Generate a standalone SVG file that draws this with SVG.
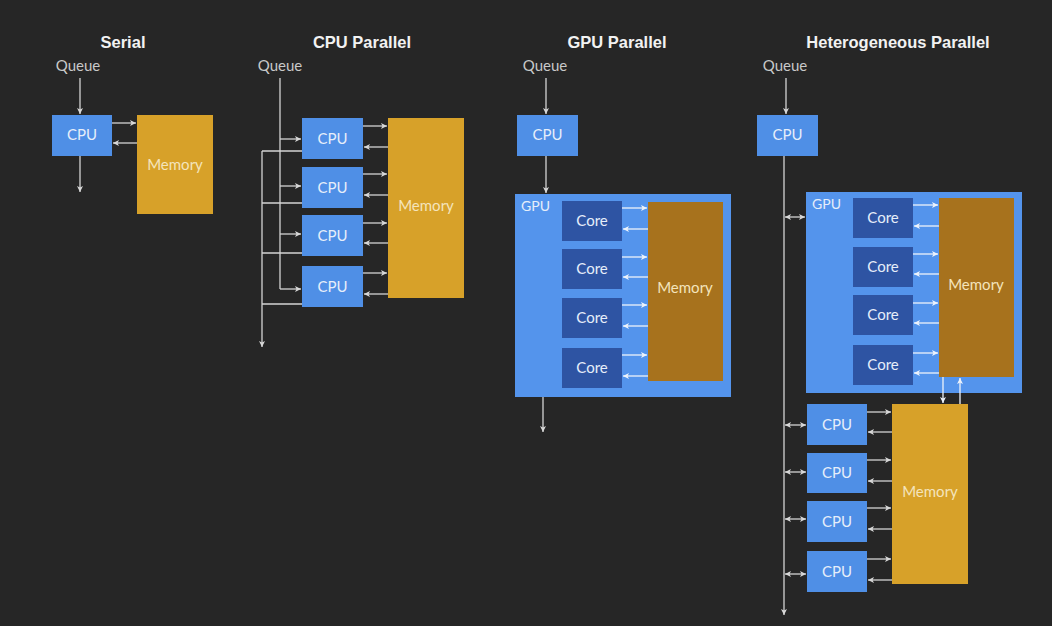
<svg xmlns="http://www.w3.org/2000/svg" width="1052" height="626" viewBox="0 0 1052 626">
<defs>
<marker id="ah" markerUnits="userSpaceOnUse" markerWidth="8" markerHeight="8" refX="6" refY="3" orient="auto-start-reverse" viewBox="0 0 8 6">
<path d="M0,0 L6,3 L0,6 L1.5,3 z" fill="#d8d8d8"/>
</marker>
<marker id="aw" markerUnits="userSpaceOnUse" markerWidth="8" markerHeight="8" refX="6" refY="3" orient="auto-start-reverse" viewBox="0 0 8 6">
<path d="M0,0 L6,3 L0,6 L1.5,3 z" fill="#eef3fb"/>
</marker>
<style>
.title{font-family:"Liberation Sans",Arial,sans-serif;font-weight:bold;font-size:16.5px;fill:#f2f2f2;text-anchor:middle}
.q{font-family:"Lato","Noto Sans",sans-serif;font-size:15px;fill:#c9c9c9;text-anchor:middle}
.lbl{font-family:"Lato","Noto Sans",sans-serif;font-size:15px;fill:#e6eefa;text-anchor:middle;dominant-baseline:central}
.mlbl{font-family:"Lato","Noto Sans",sans-serif;font-size:15px;fill:#f4e4bc;text-anchor:middle;dominant-baseline:central}
.glbl{font-family:"Lato","Noto Sans",sans-serif;font-size:14px;fill:#e6eefa}
.cpu{fill:#4f8fe6}
.gpu{fill:#5494ec}
.core{fill:#2e54a3}
.mem{fill:#d7a129}
.dmem{fill:#a7721d}
.ln{stroke:#d4d4d4;stroke-width:1.3;fill:none}
.a{stroke:#d4d4d4;stroke-width:1.3;fill:none;marker-end:url(#ah)}
.d{stroke:#d4d4d4;stroke-width:1.3;fill:none;marker-start:url(#ah);marker-end:url(#ah)}
.w{stroke:#eef3fb;stroke-width:1.3;fill:none;marker-end:url(#aw)}
</style>
</defs>
<rect width="1052" height="626" fill="#262626"/>

<!-- Titles -->
<text class="title" x="123" y="48">Serial</text>
<text class="title" x="362" y="48">CPU Parallel</text>
<text class="title" x="617" y="48">GPU Parallel</text>
<text class="title" x="898" y="48">Heterogeneous Parallel</text>
<text class="q" x="78" y="71">Queue</text>
<text class="q" x="280" y="71">Queue</text>
<text class="q" x="545" y="71">Queue</text>
<text class="q" x="785" y="71">Queue</text>

<!-- Serial nodes -->
<g id="serial-cpu"><rect class="cpu" x="52" y="115" width="60" height="41"/><text class="lbl" x="82" y="134">CPU</text></g>
<g id="serial-mem"><rect class="mem" x="137" y="115" width="76" height="99"/><text class="mlbl" x="175" y="164">Memory</text></g>

<!-- CPU parallel nodes -->
<g id="cp-cpu1"><rect class="cpu" x="302" y="118" width="61" height="41"/><text class="lbl" x="332.5" y="137.5">CPU</text></g>
<g id="cp-cpu2"><rect class="cpu" x="302" y="167" width="61" height="41"/><text class="lbl" x="332.5" y="186.5">CPU</text></g>
<g id="cp-cpu3"><rect class="cpu" x="302" y="215" width="61" height="41"/><text class="lbl" x="332.5" y="234.5">CPU</text></g>
<g id="cp-cpu4"><rect class="cpu" x="302" y="266" width="61" height="41"/><text class="lbl" x="332.5" y="285.5">CPU</text></g>
<g id="cp-mem"><rect class="mem" x="388" y="118" width="76" height="180"/><text class="mlbl" x="426" y="205">Memory</text></g>

<!-- GPU parallel nodes -->
<g id="gp-cpu"><rect class="cpu" x="517" y="115" width="61" height="41"/><text class="lbl" x="547.5" y="134">CPU</text></g>
<g id="gp-gpu"><rect class="gpu" x="515" y="194" width="216" height="203"/><text class="glbl" x="521" y="211">GPU</text></g>
<g id="gp-core1"><rect class="core" x="562" y="201" width="60" height="40"/><text class="lbl" x="592" y="220">Core</text></g>
<g id="gp-core2"><rect class="core" x="562" y="249" width="60" height="40"/><text class="lbl" x="592" y="268">Core</text></g>
<g id="gp-core3"><rect class="core" x="562" y="298" width="60" height="40"/><text class="lbl" x="592" y="317">Core</text></g>
<g id="gp-core4"><rect class="core" x="562" y="348" width="60" height="40"/><text class="lbl" x="592" y="367">Core</text></g>
<g id="gp-mem"><rect class="dmem" x="648" y="202" width="75" height="179"/><text class="mlbl" x="685" y="287">Memory</text></g>

<!-- Heterogeneous nodes -->
<g id="hp-cpu"><rect class="cpu" x="757" y="115" width="61" height="41"/><text class="lbl" x="787.5" y="134">CPU</text></g>
<g id="hp-gpu"><rect class="gpu" x="806" y="192" width="216" height="201"/><text class="glbl" x="812" y="209">GPU</text></g>
<g id="hp-core1"><rect class="core" x="853" y="198" width="60" height="40"/><text class="lbl" x="883" y="217">Core</text></g>
<g id="hp-core2"><rect class="core" x="853" y="247" width="60" height="40"/><text class="lbl" x="883" y="266">Core</text></g>
<g id="hp-core3"><rect class="core" x="853" y="295" width="60" height="40"/><text class="lbl" x="883" y="314">Core</text></g>
<g id="hp-core4"><rect class="core" x="853" y="345" width="60" height="40"/><text class="lbl" x="883" y="364">Core</text></g>
<g id="hp-gmem"><rect class="dmem" x="939" y="198" width="75" height="179"/><text class="mlbl" x="976" y="284">Memory</text></g>
<g id="hp-cpu1"><rect class="cpu" x="807" y="404" width="60" height="41"/><text class="lbl" x="837" y="423.5">CPU</text></g>
<g id="hp-cpu2"><rect class="cpu" x="807" y="453" width="60" height="40"/><text class="lbl" x="837" y="472">CPU</text></g>
<g id="hp-cpu3"><rect class="cpu" x="807" y="501" width="60" height="41"/><text class="lbl" x="837" y="520.5">CPU</text></g>
<g id="hp-cpu4"><rect class="cpu" x="807" y="551" width="60" height="41"/><text class="lbl" x="837" y="570.5">CPU</text></g>
<g id="hp-cmem"><rect class="mem" x="892" y="404" width="76" height="180"/><text class="mlbl" x="930" y="491">Memory</text></g>

<g id="connectors">
<!-- Serial -->
<path class="a" d="M80,78 V114"/>
<path class="a" d="M112,123 H136"/>
<path class="a" d="M137,143 H113"/>
<path class="a" d="M80,156 V192"/>

<!-- CPU parallel -->
<path class="ln" d="M280,78 V289"/>
<path class="a" d="M280,139 H301"/>
<path class="a" d="M280,186 H301"/>
<path class="a" d="M280,234 H301"/>
<path class="a" d="M280,289 H301"/>
<path class="ln" d="M302,151 H262 M302,203 H262 M302,253 H262 M302,304 H262"/>
<path class="a" d="M262,151 V347"/>
<path class="a" d="M363,126 H387"/>
<path class="a" d="M388,147 H364"/>
<path class="a" d="M363,174 H387"/>
<path class="a" d="M388,195 H364"/>
<path class="a" d="M363,223 H387"/>
<path class="a" d="M388,243 H364"/>
<path class="a" d="M363,273 H387"/>
<path class="a" d="M388,294 H364"/>

<!-- GPU parallel -->
<path class="a" d="M546,78 V114"/>
<path class="a" d="M546,156 V193"/>
<path class="w" d="M622,208 H647"/>
<path class="w" d="M648,229 H623"/>
<path class="w" d="M622,257 H647"/>
<path class="w" d="M648,277 H623"/>
<path class="w" d="M622,305 H647"/>
<path class="w" d="M648,326 H623"/>
<path class="w" d="M622,355 H647"/>
<path class="w" d="M648,376 H623"/>
<path class="a" d="M543,397 V432"/>

<!-- Heterogeneous -->
<path class="a" d="M786,78 V114"/>
<path class="a" d="M784,156 V615"/>
<path class="d" d="M785,217 H805"/>
<path class="w" d="M913,205 H938"/>
<path class="w" d="M939,226 H914"/>
<path class="w" d="M913,254 H938"/>
<path class="w" d="M939,274 H914"/>
<path class="w" d="M913,303 H938"/>
<path class="w" d="M939,323 H914"/>
<path class="w" d="M913,353 H938"/>
<path class="w" d="M939,373 H914"/>
<path class="w" d="M943,377 V403"/>
<path class="w" d="M960,404 V378"/>
<path class="d" d="M785,425 H806"/>
<path class="d" d="M785,472 H806"/>
<path class="d" d="M785,519 H806"/>
<path class="d" d="M785,574 H806"/>
<path class="a" d="M867,412 H891"/>
<path class="a" d="M892,432 H868"/>
<path class="a" d="M867,460 H891"/>
<path class="a" d="M892,481 H868"/>
<path class="a" d="M867,508 H891"/>
<path class="a" d="M892,529 H868"/>
<path class="a" d="M867,559 H891"/>
<path class="a" d="M892,580 H868"/>
</g>
</svg>
